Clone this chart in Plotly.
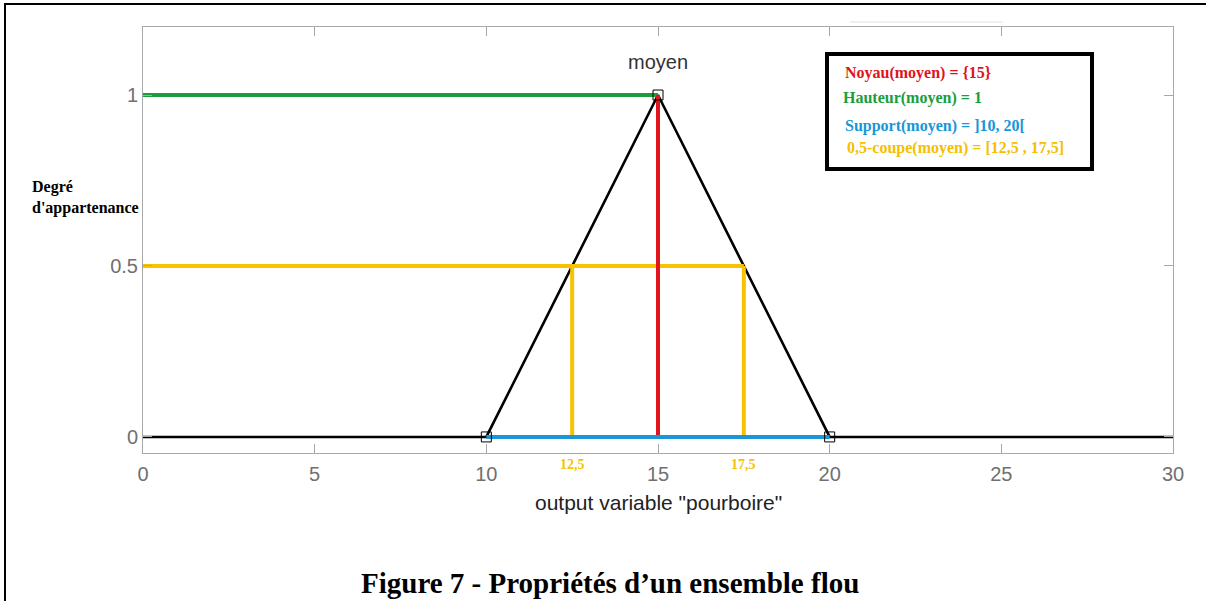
import plotly.graph_objects as go

# Data
mf_x = [0, 10, 15, 20, 30]
mf_y = [0, 0, 1, 0, 0]
corner_x = [10, 15, 20]
corner_y = [0, 1, 0]
noyau = 15
hauteur = 1
support = [10, 20]
alpha = 0.5
alpha_cut = [12.5, 17.5]
x_ticks = [0, 5, 10, 15, 20, 25, 30]
y_ticks = [0, 0.5, 1]
y_tick_text = ["0", "0.5", "1"]
cut_labels = ["12,5", "17,5"]
info_lines = [
    ("Noyau(moyen) = {15}", "#e0141c"),
    ("Hauteur(moyen) = 1", "#1a9e3c"),
    ("Support(moyen) = ]10, 20[", "#1996d8"),
    ("0,5-coupe(moyen) = [12,5 , 17,5]", "#f5c000"),
]

RED = "#e0141c"
GREEN = "#1a9e3c"
BLUE = "#1996d8"
ORANGE = "#f7c300"
SERIF = "Liberation Serif, Times New Roman"
SANS = "Liberation Sans, Arial"

fig = go.Figure()

# membership function (black)
fig.add_trace(go.Scatter(x=mf_x, y=mf_y, mode="lines",
                         line=dict(color="black", width=2.6), hoverinfo="skip"))
# height (green)
fig.add_trace(go.Scatter(x=[mf_x[0], noyau], y=[hauteur, hauteur], mode="lines",
                         line=dict(color=GREEN, width=4)))
# alpha cut (orange)
fig.add_trace(go.Scatter(x=[mf_x[0], alpha_cut[1]], y=[alpha, alpha], mode="lines",
                         line=dict(color=ORANGE, width=4)))
for xc in alpha_cut:
    fig.add_trace(go.Scatter(x=[xc, xc], y=[0, alpha], mode="lines",
                             line=dict(color=ORANGE, width=4)))
# kernel (red)
fig.add_trace(go.Scatter(x=[noyau, noyau], y=[0, hauteur], mode="lines",
                         line=dict(color=RED, width=4)))
# support (blue)
fig.add_trace(go.Scatter(x=support, y=[0, 0], mode="lines",
                         line=dict(color=BLUE, width=4)))
# corner markers
fig.add_trace(go.Scatter(x=corner_x, y=corner_y, mode="markers",
                         marker=dict(symbol="square-open", size=10,
                                     color="black", line=dict(width=1, color="black"))))


def py(p):
    return (453 - p) / 426


def px(p):
    return (p - 143) / 1030


annotations = []
annotations.append(dict(x=noyau, y=1.096, xref="x", yref="y", text="moyen",
                        xanchor="center", yanchor="middle", showarrow=False,
                        font=dict(family=SANS, size=20, color="#333")))
annotations.append(dict(x=15, y=py(503), xref="x", yref="paper",
                        xanchor="center", yanchor="middle",
                        text='output variable "pourboire"', showarrow=False,
                        font=dict(family=SANS, size=21, color="#222")))
for xc, lab in zip(alpha_cut, cut_labels):
    annotations.append(dict(x=xc, y=py(464), xref="x", yref="paper", text="<b>%s</b>" % lab,
                            xanchor="center", yanchor="middle", showarrow=False,
                            font=dict(family=SERIF, size=14, color=ORANGE)))
annotations.append(dict(x=px(30), y=py(197), xref="paper", yref="paper",
                        xanchor="left", yanchor="middle", align="left",
                        text="<b>Degré<br>d'appartenance</b>", showarrow=False,
                        font=dict(family=SERIF, size=16, color="black")))
info_y = [73, 98, 126, 148]
info_x = [843, 841, 843, 845]
for (txt, col), yy, xx in zip(info_lines, info_y, info_x):
    annotations.append(dict(x=px(xx), y=py(yy), xref="paper", yref="paper",
                            xanchor="left", yanchor="middle", text="<b>%s</b>" % txt,
                            showarrow=False,
                            font=dict(family=SERIF, size=16, color=col)))
annotations.append(dict(x=px(610), y=py(583), xref="paper", yref="paper",
                        xanchor="center", yanchor="middle",
                        text="<b>Figure 7 - Propriétés d’un ensemble flou</b>", showarrow=False,
                        font=dict(family=SERIF, size=29, color="black")))

shapes = [
    dict(type="rect", xref="paper", yref="paper",
         x0=px(5), x1=px(1215), y0=py(620), y1=py(4),
         line=dict(color="black", width=2), layer="below"),
    dict(type="rect", xref="paper", yref="paper",
         x0=px(827), x1=px(1092), y0=py(169), y1=py(54),
         line=dict(color="black", width=4), fillcolor="white"),
    dict(type="line", xref="paper", yref="paper",
         x0=px(850), x1=px(1003), y0=py(22), y1=py(22),
         line=dict(color="#e0e0e0", width=1)),
]

axis_common = dict(showline=True, linecolor="#a8a8a8", linewidth=1, mirror="ticks",
                   ticks="inside", ticklen=9, tickcolor="#a8a8a8", tickwidth=1,
                   showgrid=False, zeroline=False,
                   tickfont=dict(family=SANS, size=20, color="#707070"))

fig.update_layout(
    width=1206, height=601,
    margin=dict(l=143, r=33, t=27, b=148),
    paper_bgcolor="white", plot_bgcolor="white",
    showlegend=False,
    xaxis=dict(range=[0, 30], tickvals=x_ticks, ticklabelstandoff=3, **axis_common),
    yaxis=dict(range=[-0.047, 1.199], tickvals=y_ticks, ticktext=y_tick_text, **axis_common),
    annotations=annotations,
    shapes=shapes,
)

fig.write_html("out.html")
